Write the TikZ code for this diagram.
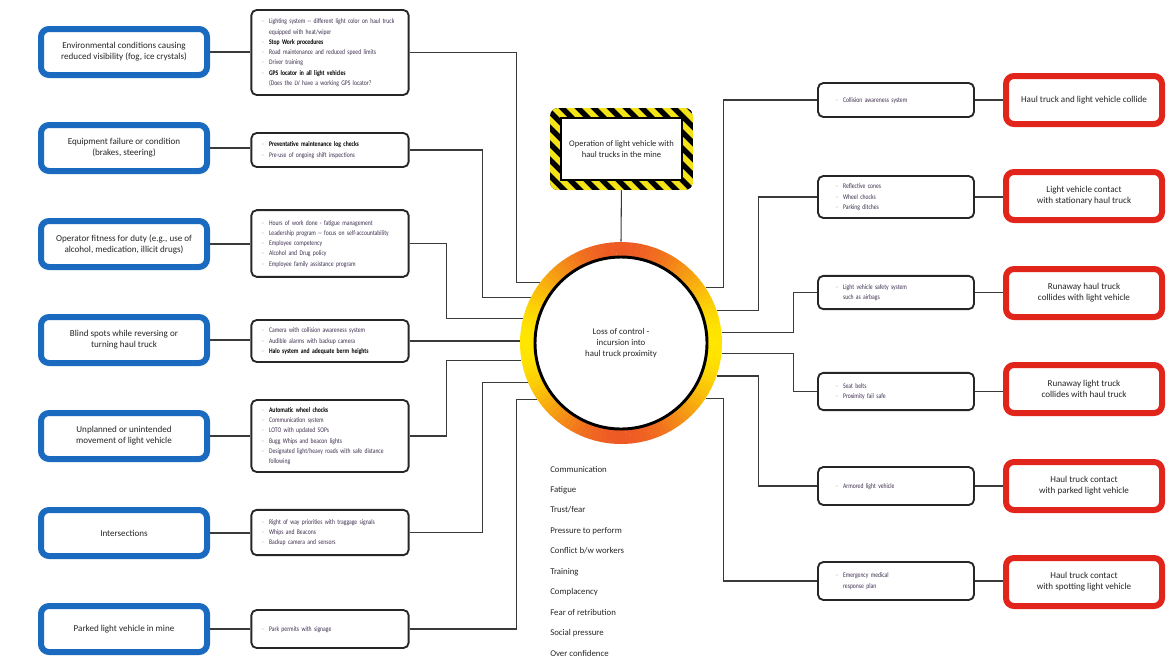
\documentclass[tikz,border=0pt]{standalone}
\usepackage{fontspec}
\setmainfont{Carlito}
\newfontfamily\condfont[FakeStretch=0.8]{Carlito}
\usetikzlibrary{calc,backgrounds}
\definecolor{causeblue}{HTML}{1A6BBF}
\definecolor{conred}{HTML}{E1251B}
\definecolor{ringtop}{HTML}{EE5A24}
\definecolor{ringside}{HTML}{FFE500}
\definecolor{hazyel}{HTML}{F5E31A}
\definecolor{listcol}{HTML}{3E3150}
\definecolor{dashcol}{HTML}{9C8296}
\definecolor{linecol}{HTML}{3A3A3A}
\newcommand\di{\textcolor{dashcol}{-}}
\newcommand\fs[2]{\fontsize{#1}{#2}\selectfont}
\newcommand\bl[1]{\textcolor{black}{\textbf{#1}}}
\begin{document}
\begin{tikzpicture}[x=0.75pt,y=-0.75pt,
  cause/.style={draw=causeblue, line width=4.5pt, rounded corners=6pt, fill=white,
    minimum width=124.5pt, minimum height=34.5pt, align=center, inner sep=1pt,
    font=\fs{6.8}{8.25}, text=black!85},
  conseq/.style={cause, draw=conred, minimum width=117pt, minimum height=36pt},
  barrier/.style={draw=black!85, line width=1.4pt, rounded corners=4pt, fill=white,
    text width=102pt, inner xsep=8pt, inner ysep=2pt, font=\condfont\fs{5.3}{7.7},
    text=listcol, align=left},
  rbarrier/.style={barrier, text width=90pt, inner xsep=13.5pt},
  factor/.style={anchor=west, inner sep=0pt, font=\fs{6.6}{8}, text=black!85},
  conn/.style={draw=linecol, line width=0.8pt}]
\useasboundingbox (0,0) rectangle (1169,665);

% ---- central ring ----
\foreach \a in {0,3,...,357}{
  \pgfmathsetmacro\t{100*(abs(sin(\a+1.5)))^2}
  \colorlet{ringc}{ringtop!\t!ringside}
  \fill[ringc] ($(621,343)+(\a:101)$) -- ($(621,343)+(\a+3.2:101)$)
     -- ($(621,343)+(\a+3.2:84)$) -- ($(621,343)+(\a:84)$) -- cycle;
}
\draw[line width=2.2pt, fill=white] (621,343) circle[radius=86];
\node[circle, minimum size=151.5pt, inner sep=0pt, align=center, font=\fs{6.6}{8.25}, text=black!85]
  (loss) at (621,343) {Loss of control -\\incursion into\\haul truck proximity};

% ---- hazard box ----
\begin{scope}
\clip[rounded corners=6pt] (550,108) rectangle (693,190);
\fill[black] (550,108) rectangle (693,190);
\foreach \i in {0,...,16}{
  \fill[hazyel] (470+\i*16,108) -- ++(8,0) -- ++(82,82) -- ++(-8,0) -- cycle;
}
\end{scope}
\node[draw=black, line width=0.8pt, fill=white, minimum width=90.75pt, minimum height=46.5pt,
  align=center, font=\fs{6.4}{8.8}, text=black!85] (op) at (621.5,149)
  {Operation of light vehicle with\\haul trucks in the mine};

% ---- causes ----
\node[cause] (c1) at (124,52) {Environmental conditions causing\\reduced visibility (fog, ice crystals)};
\node[cause] (c2) at (124,148) {Equipment failure or condition\\(brakes, steering)};
\node[cause] (c3) at (124,244) {Operator fitness for duty (e.g., use of\\alcohol, medication, illicit drugs)};
\node[cause] (c4) at (124,340) {Blind spots while reversing or\\turning haul truck};
\node[cause] (c5) at (124,436) {Unplanned or unintended\\movement of light vehicle};
\node[cause] (c6) at (124,533) {Intersections};
\node[cause] (c7) at (124,629) {Parked light vehicle in mine};

% ---- preventive barriers ----
\node[barrier, minimum height=63.75pt] (m1) at (330,52.5) {\begin{tabular}{@{}l@{\hspace{4pt}}l@{}}
\di & Lighting system -- different light color on haul truck\\
    & equipped with heat/wiper\\
\di & \bl{Stop Work procedures}\\
\di & Road maintenance and reduced speed limits\\
\di & Driver training\\
\di & \bl{GPS locator in all light vehicles}\\
    & (Does the LV have a working GPS locator?
\end{tabular}};
\node[barrier, minimum height=25.5pt] (m2) at (330,150) {\begin{tabular}{@{}l@{\hspace{4pt}}l@{}}
\di & \bl{Preventative maintenance log checks}\\
\di & Pre-use of ongoing shift inspections
\end{tabular}};
\node[barrier, minimum height=50pt] (m3) at (330,243.5) {\begin{tabular}{@{}l@{\hspace{4pt}}l@{}}
\di & Hours of work done - fatigue management\\
\di & Leadership program -- focus on self-accountability\\
\di & Employee competency\\
\di & Alcohol and Drug policy\\
\di & Employee family assistance program
\end{tabular}};
\node[barrier, minimum height=31.5pt] (m4) at (330,341) {\begin{tabular}{@{}l@{\hspace{4pt}}l@{}}
\di & Camera with collision awareness system\\
\di & Audible alarms with backup camera\\
\di & \bl{Halo system and adequate berm heights}
\end{tabular}};
\node[barrier, minimum height=54pt] (m5) at (330,436) {\begin{tabular}{@{}l@{\hspace{4pt}}l@{}}
\di & \bl{Automatic wheel chocks}\\
\di & Communication system\\
\di & LOTO with updated SOPs\\
\di & Bugg Whips and beacon lights\\
\di & Designated light/heavy roads with safe distance\\
    & following
\end{tabular}};
\node[barrier, minimum height=34pt] (m6) at (330,532.5) {\begin{tabular}{@{}l@{\hspace{4pt}}l@{}}
\di & Right of way priorities with traggage signals\\
\di & Whips and Beacons\\
\di & Backup camera and sensors
\end{tabular}};
\node[barrier, minimum height=28.5pt] (m7) at (330,629) {\begin{tabular}{@{}l@{\hspace{4pt}}l@{}}
\di & Park permits with signage
\end{tabular}};

% ---- mitigating barriers ----
\node[rbarrier, minimum height=25.5pt] (r1) at (896,100) {\begin{tabular}{@{}l@{\hspace{4pt}}l@{}}
\di & Collision awareness system
\end{tabular}};
\node[rbarrier, minimum height=31.5pt] (r2) at (896,197) {\begin{tabular}{@{}l@{\hspace{4pt}}l@{}}
\di & Reflective cones\\
\di & Wheel chocks\\
\di & Parking ditches
\end{tabular}};
\node[rbarrier, minimum height=25pt] (r3) at (896,292.5) {\begin{tabular}{@{}l@{\hspace{4pt}}l@{}}
\di & Light vehicle safety system\\
    & such as airbags
\end{tabular}};
\node[rbarrier, minimum height=28pt] (r4) at (896,391.5) {\begin{tabular}{@{}l@{\hspace{4pt}}l@{}}
\di & Seat belts\\
\di & Proximity fail safe
\end{tabular}};
\node[rbarrier, minimum height=28.5pt] (r5) at (896,486) {\begin{tabular}{@{}l@{\hspace{4pt}}l@{}}
\di & Armored light vehicle
\end{tabular}};
\node[rbarrier, minimum height=28.5pt] (r6) at (896,581) {\begin{tabular}{@{}l@{\hspace{4pt}}l@{}}
\di & Emergency medical\\
    & response plan
\end{tabular}};

% ---- consequences ----
\node[conseq] (q1) at (1084,100) {Haul truck and light vehicle collide};
\node[conseq] (q2) at (1084,196) {Light vehicle contact\\with stationary haul truck};
\node[conseq] (q3) at (1084,293) {Runaway haul truck\\collides with light vehicle};
\node[conseq] (q4) at (1084,389) {Runaway light truck\\collides with haul truck};
\node[conseq] (q5) at (1084,486) {Haul truck contact\\with parked light vehicle};
\node[conseq] (q6) at (1084,582) {Haul truck contact\\with spotting light vehicle};

% ---- human factors ----
\node[factor] (f1) at (550,469) {Communication};
\node[factor] (f2) at (550,490) {Fatigue};
\node[factor] (f3) at (550,510) {Trust/fear};
\node[factor] (f4) at (550,531) {Pressure to perform};
\node[factor] (f5) at (550,551) {Conflict b/w workers};
\node[factor] (f6) at (550,572) {Training};
\node[factor] (f7) at (550,592) {Complacency};
\node[factor] (f8) at (550,612) {Fear of retribution};
\node[factor] (f9) at (550,633) {Social pressure};
\node[factor] (f10) at (550,653) {Over confidence};

% ---- connectors ----
\begin{pgfonlayer}{background}
\foreach \i in {1,...,7}{ \draw[conn] (c\i.east) -- (c\i.east -| m\i.west); }
\foreach \i in {1,...,6}{ \draw[conn] (r\i.east) -- (r\i.east -| q\i.west); }
\draw[conn] (m1.east) -- ++(107,0) |- (loss.143.6);
\draw[conn] (m2.east) -- ++(73,0) |- (loss.153.5);
\draw[conn] (m3.east) -- ++(37,0) |- (loss.166.8);
\draw[conn] (m4.east) -- (m4.east -| loss.west);
\draw[conn] (m5.east) -- ++(37,0) |- (loss.190.8);
\draw[conn] (m6.east) -- ++(73,0) |- (loss.203.3);
\draw[conn] (m7.east) -- ++(107,0) |- (loss.214.4);
\draw[conn] (r1.west) -- ++(-94,0) |- (loss.33);
\draw[conn] (r2.west) -- ++(-59,0) |- (loss.19.1);
\draw[conn] (r3.west) -- ++(-24,0) |- (loss.6.8);
\draw[conn] (r4.west) -- ++(-24,0) |- (loss.354.3);
\draw[conn] (r5.west) -- ++(-59,0) |- (loss.341.5);
\draw[conn] (r6.west) -- ++(-94,0) |- (loss.327);
\draw[conn] (op.south) -- (loss.north);
\end{pgfonlayer}
\end{tikzpicture}
\end{document}
